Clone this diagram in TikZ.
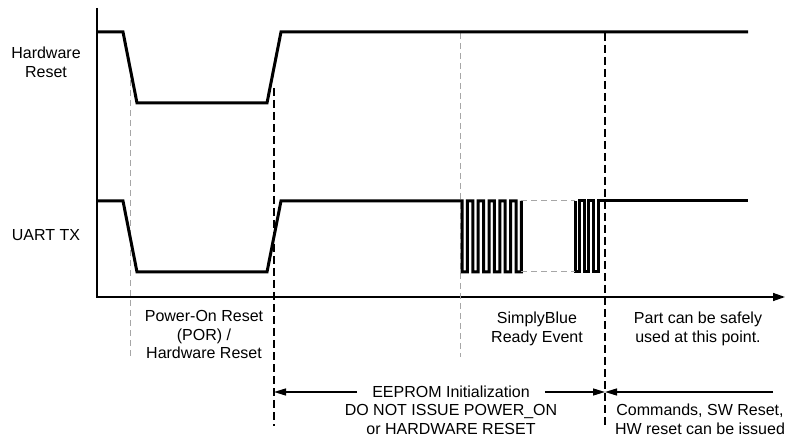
\documentclass[tikz,border=0pt]{standalone}
\usepackage{fontspec}
\setmainfont{Liberation Sans}
\usetikzlibrary{arrows.meta,positioning}

\begin{document}
\begin{tikzpicture}[x=1pt,y=-1pt,
   sig/.style={line width=3pt,line join=miter},
   axis/.style={line width=1.3pt},
   guide/.style={line width=1.3pt,dash pattern=on 8pt off 4pt},
   guidegray/.style={line width=1pt,gray!70,dash pattern=on 6pt off 4pt},
   lbl/.style={align=center,inner sep=0pt,font=\fontsize{16}{18.5}\selectfont},
   dim/.style={line width=1.3pt,-{Triangle[length=12pt,width=7pt]}}]
   \useasboundingbox (0,0) rectangle (797,443);
   % axes
   \coordinate (origin) at (97,297);
   \coordinate (ytop) at (97,8);
   \coordinate (xend) at (785,297);
   \draw[axis,-{Triangle[length=12pt,width=8pt]}] (ytop) -- (origin) -- (xend);
   % signal names
   \node[lbl,anchor=north] (hw) at (46,47) {Hardware\\Reset};
   \node[lbl] (uart) at (46,235) {UART TX};
   % timing guides
   \coordinate (porA) at (130,80);   \coordinate (porB) at (130,357);
   \coordinate (initA) at (274,88);  \coordinate (initB) at (274,426);
   \coordinate (rdyA) at (460.5,33); \coordinate (rdyB) at (460.5,357);
   \coordinate (useA) at (605,33);   \coordinate (useB) at (605,427);
   \draw[guidegray] (porA) -- (porB);
   \draw[guide] (initA) -- (initB);
   \draw[guidegray] (rdyA) -- (rdyB);
   \draw[guide] (useA) -- (useB);
   % Hardware Reset
   \draw[sig] (97,32) -- (123,32) -- (137,103) -- (267,103) -- (281,32) -- (748,32);
   % UART TX
   \draw[sig] (97,201) -- (123,201) -- (137,272) -- (267,272) -- (281,201) -- (462,201)
      \foreach \k in {1,...,5} { -- ++(0,71) -- ++(5.4,0) -- ++(0,-71) -- ++(5.4,0) }
      -- ++(0,71) -- ++(5.4,0) -- ++(0,-71) coordinate (burstA);
   \draw[sig] (575,201) coordinate (burstB)
      \foreach \k in {1,2} { -- ++(0,71) -- ++(4.6,0) -- ++(0,-71) -- ++(4.6,0) }
      -- ++(0,71) -- ++(4.6,0) -- ++(0,-71) -- (748,201);
   \draw[guidegray] (burstA) -- (burstB);
   \draw[guidegray] ([yshift=-71pt]burstA) -- ([yshift=-71pt]burstB);
   % phase labels
   \node[lbl,anchor=north] (por) at (204,310.5) {Power-On Reset\\(POR) /\\Hardware Reset};
   \node[lbl,anchor=north] (ready) at (537,312) {SimplyBlue\\Ready Event};
   \node[lbl,anchor=north] (safe) at (698,312) {Part can be safely\\used at this point.};
   \node[lbl,inner xsep=15pt] (eeprom) at (451,392) {EEPROM Initialization};
   \node[lbl,below=6.5pt of eeprom] (donot) {DO NOT ISSUE POWER\_ON\\or HARDWARE RESET};
   \node[lbl,anchor=north] (cmds) at (700,404) {Commands, SW Reset,\\HW reset can be issued};
   % durations
   \coordinate (eeL) at (274,392);
   \coordinate (eeR) at (605,392);
   \coordinate (cmdEnd) at (773,392);
   \draw[dim] (eeprom.west) -- (eeL);
   \draw[dim] (eeprom.east) -- (eeR);
   \draw[dim] (cmdEnd) -- (eeR);
\end{tikzpicture}
\end{document}
